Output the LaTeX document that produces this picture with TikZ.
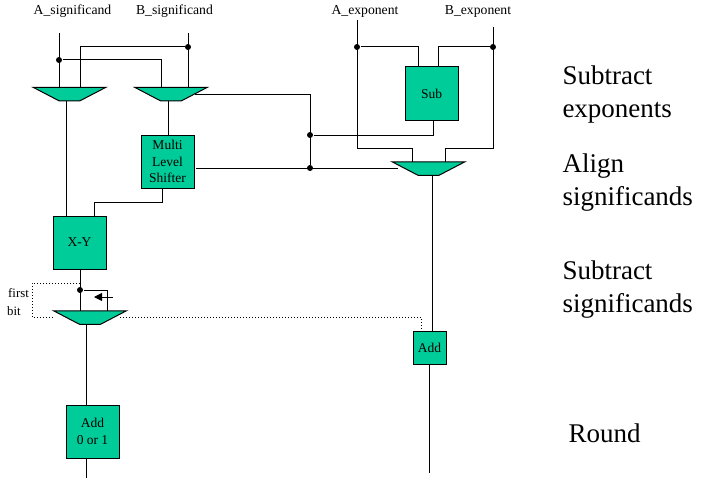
\documentclass[tikz,border=0pt]{standalone}
\usepackage{fontspec}
\setmainfont{Liberation Serif}
\usetikzlibrary{shapes.geometric,arrows.meta}
\definecolor{boxgreen}{HTML}{00CC99}
\tikzset{
  unit/.style={draw, fill=boxgreen, line width=1pt, inner sep=0pt, align=center, font=\fontsize{13.5}{16.5}\selectfont},
  mux/.style={trapezium, shape border rotate=180, trapezium stretches=true, draw, fill=boxgreen, line width=1pt,
    inner sep=0pt, minimum width=73pt, minimum height=13.5pt, trapezium left angle=37, trapezium right angle=37,
    font=\tiny},
  junction/.style={circle, fill=black, inner sep=0pt, minimum size=6pt},
  sig/.style={font=\fontsize{13.7}{16}\selectfont},
  stage/.style={anchor=west, align=left, inner sep=0pt, font=\fontsize{27}{33}\selectfont}
}
\begin{document}
\begin{tikzpicture}[x=1pt,y=-1pt,line width=1pt]
\useasboundingbox (0,0) rectangle (701,487);
% inputs
\node [sig] (Asig) at (72.5,11) {A\_significand};
\node [sig] (Bsig) at (174.5,11) {B\_significand};
\node [sig] (Aexp) at (365,11) {A\_exponent};
\node [sig] (Bexp) at (478,11) {B\_exponent};
\coordinate (Ain) at (59,33);
\coordinate (Bin) at (188,33);
\coordinate (Cin) at (357,20);
\coordinate (Din) at (493,27);
\coordinate (Aout) at (429,473);
\coordinate (Rout) at (86,478);
% units
\node [mux] (muxA) at (69.5,94) {\phantom{x}};
\node [mux] (muxB) at (171,94) {\phantom{x}};
\node [mux] (muxC) at (428.5,168.5) {\phantom{x}};
\node [mux] (muxD) at (90,317.5) {\phantom{x}};
\node [unit, minimum size=53pt] (shifter) at (167.5,161.5) {Multi\\Level\\Shifter};
\node [unit, minimum size=53pt] (sub) at (431.5,93.5) {Sub};
\node [unit, minimum size=53pt] (xy) at (79.5,242.5) {X-Y};
\node [unit, minimum size=53pt] (addround) at (92.5,431.5) {Add\\0 or 1};
\node [unit, minimum size=33pt] (addexp) at (429.5,347.5) {Add};
% junctions
\node [junction] (jA) at (59,60) {};
\node [junction] (jB) at (188,47) {};
\node [junction] (jC) at (357,47) {};
\node [junction] (jD) at (493,47) {};
\node [junction] (jE) at (310,135) {};
\node [junction] (jF) at (310,168) {};
\node [junction] (jG) at (80,290) {};
% significand inputs
\draw (Ain) -- (59,87);
\draw (Bin) -- (188,87);
\draw (jA) -| (161,87);
\draw (jB) -| (80,87);
% exponent inputs
\draw (Cin) |- (412,148) -- (412,162);
\draw (Din) |- (445,148) -- (445,162);
\draw (jC) -| (418,67);
\draw (jD) -| (438,67);
% control lines
\draw (195,94) -| (jF);
\draw (jE) -| (433,120);
\draw (196,168) -- (398,168);
% datapath
\draw (66,101) -- (66,216);
\draw (168,101) -- (168,135);
\draw (162,188) |- (94,202) -- (94,216);
\draw (432,175) -- (432,331);
\draw (429,364) -- (Aout);
\draw (80,269) -- (80,311);
\draw (jG) -| (107,311);
\draw (86,324) -- (86,405);
\draw (86,458) -- (Rout);
\draw [-{Triangle[length=8pt,width=8pt]}] (113,297) -- (94,297);
% first bit
\draw [dotted] (80,283) -| (32,317) -- (53,317);
\draw [dotted] (120,317) -| (421,331);
\node [font=\fontsize{12.8}{14}\selectfont] (first) at (18.5,293) {first};
\node [font=\fontsize{12.8}{14}\selectfont] (bit) at (14,311) {bit};
% stages
\node [stage] (exps) at (562,94.5) {Subtract\\exponents};
\node [stage] (align) at (562,182.5) {Align\\significands};
\node [stage] (subs) at (562,290) {Subtract\\significands};
\node [stage] (round) at (568,433) {Round};
\end{tikzpicture}
\end{document}
